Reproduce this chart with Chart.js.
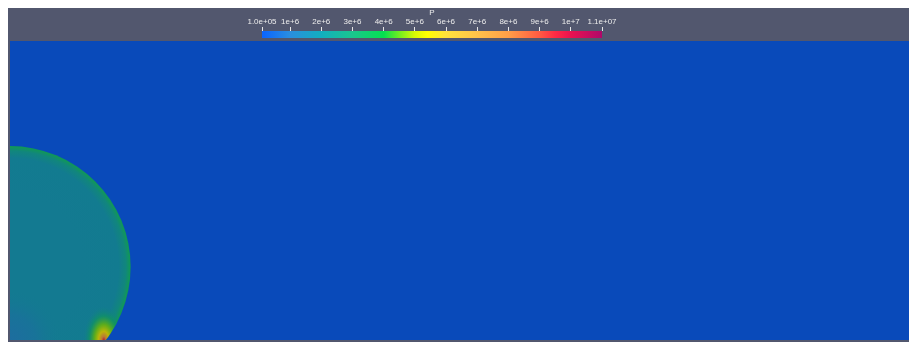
<!DOCTYPE html>
<html>
<head>
<meta charset="utf-8">
<script src="https://cdn.jsdelivr.net/npm/chart.js@4/dist/chart.umd.min.js"></script>
<style>
  html, body { margin: 0; padding: 0; background: #ffffff; width: 909px; height: 343px; overflow: hidden; }
  #frame { position: absolute; left: 8px; top: 8px; width: 901px; height: 334px; background: #52576e; }
  #bar { position: absolute; left: 0; top: 0; }
  #field { position: absolute; left: 10px; top: 41px; }
</style>
</head>
<body>
<div id="frame"></div>
<canvas id="bar" width="909" height="41"></canvas>
<canvas id="field" width="899" height="299"></canvas>
<script>
// ---- colour legend ----
const fieldName = 'P';
const pMin = 1e5;
const pMax = 1.1e7;
const tickValues = [1e5, 1e6, 2e6, 3e6, 4e6, 5e6, 6e6, 7e6, 8e6, 9e6, 1e7, 1.1e7];
const tickLabels = ['1.0e+05', '1e+6', '2e+6', '3e+6', '4e+6', '5e+6', '6e+6', '7e+6', '8e+6', '9e+6', '1e+7', '1.1e+07'];

// colour map: pressure -> colour
const cmapValues = [1e5, 1e6, 2e6, 3e6, 4e6, 4.5e6, 5e6, 5.4e6, 6e6, 7e6, 8e6, 9e6, 9.5e6, 1e7, 1.1e7];
const cmapColors = ['#0a64ff', '#2a8ee0', '#12aebf', '#1ac68e', '#05e050', '#70ee20', '#d8fa05', '#ffff00',
                    '#ffe23c', '#ffc24a', '#ff9e48', '#ff5a42', '#ff2a44', '#e81250', '#b0086a'];

// ---- pressure field (domain: x 0..3, y 0..1) ----
const domainX = [0, 3];
const domainY = [0, 1];
const ambientPressure = 1e5;

// expanding bubble on the symmetry axis, radial pressure profile
const bubbleCenter = [0, 0.245];
const bubbleRadius = 0.403;
const bubbleProfileR = [0, 0.6, 0.9, 0.96, 0.99, 1.0];
const bubbleProfileP = [1.75e6, 1.76e6, 1.82e6, 2.4e6, 3.25e6, 3.45e6];

// rarefied region near the axis / wall corner
const cornerCenter = [0, 0];
const cornerRadius = 0.17;
const cornerProfileR = [0, 0.5, 1.0];
const cornerProfileP = [1.2e6, 1.45e6, 1.75e6];

// reflected pressure peak where the front meets the wall
const spotCenter = [0.313, 0];
const spotRadius = 0.1;
const spotProfileR = [0, 0.1, 0.25, 0.45, 0.7, 1.0];
const spotProfileP = [9.6e6, 7.8e6, 5.5e6, 4.6e6, 3.3e6, 1.9e6];
const spotProfileA = [1, 1, 1, 0.95, 0.65, 0];

// rendered surface shading
const SHADE = 0.72;
const LIFT = 2;

function hexRGB(h) {
  return [parseInt(h.slice(1, 3), 16), parseInt(h.slice(3, 5), 16), parseInt(h.slice(5, 7), 16)];
}
function cmapRGB(p) {
  if (p <= cmapValues[0]) return hexRGB(cmapColors[0]);
  for (let i = 1; i < cmapValues.length; i++) {
    if (p <= cmapValues[i]) {
      const t = (p - cmapValues[i - 1]) / (cmapValues[i] - cmapValues[i - 1]);
      const a = hexRGB(cmapColors[i - 1]), b = hexRGB(cmapColors[i]);
      return a.map((v, k) => v + (b[k] - v) * t);
    }
  }
  return hexRGB(cmapColors[cmapColors.length - 1]);
}
function fieldColor(p, alpha = 1) {
  const c = cmapRGB(p).map(v => Math.round(Math.min(255, v * SHADE + LIFT)));
  return `rgba(${c[0]},${c[1]},${c[2]},${alpha})`;
}

// colour legend bar
new Chart(document.getElementById('bar'), {
  type: 'bar',
  data: {
    labels: [fieldName],
    datasets: [{
      data: [[pMin, pMax]],
      borderWidth: 0,
      barPercentage: 1,
      categoryPercentage: 1,
      backgroundColor: (c) => {
        const chart = c.chart;
        if (!chart.chartArea) return cmapColors[0];
        const xs = chart.scales.x;
        const g = chart.ctx.createLinearGradient(xs.getPixelForValue(pMin), 0, xs.getPixelForValue(pMax), 0);
        cmapValues.forEach((v, i) => g.addColorStop((v - pMin) / (pMax - pMin), cmapColors[i]));
        return g;
      }
    }]
  },
  options: {
    indexAxis: 'y',
    responsive: false,
    animation: false,
    devicePixelRatio: 1,
    layout: { padding: { left: 262, right: 307, top: 8, bottom: 3 } },
    plugins: { legend: { display: false }, tooltip: { enabled: false } },
    scales: {
      x: {
        type: 'linear',
        position: 'top',
        min: pMin,
        max: pMax,
        afterBuildTicks: (s) => { s.ticks = tickValues.map(v => ({ value: v })); },
        afterFit: (s) => { s.height = 23; },
        ticks: {
          autoSkip: false,
          maxRotation: 0,
          padding: 0,
          color: '#ececec',
          font: { family: 'Liberation Sans', size: 8 },
          callback: (v, i) => tickLabels[i]
        },
        grid: { drawOnChartArea: false, drawTicks: true, tickLength: 4, color: '#e6e6e6', lineWidth: 1 },
        border: { display: false },
        title: {
          display: true,
          text: fieldName,
          color: '#ececec',
          font: { family: 'Liberation Sans', size: 8 },
          padding: { top: 0, bottom: 0 }
        }
      },
      y: { display: false }
    }
  }
});

// pressure field painter
const fieldPainter = {
  id: 'fieldPainter',
  beforeDatasetsDraw(chart) {
    const { ctx, chartArea: area } = chart;
    const xs = chart.scales.x, ys = chart.scales.y;
    const px = v => xs.getPixelForValue(v);
    const py = v => ys.getPixelForValue(v);
    const len = r => ((px(r) - px(0)) + (py(0) - py(r))) / 2;

    ctx.save();
    ctx.beginPath();
    ctx.rect(area.left, area.top, area.width, area.height);
    ctx.clip();

    // ambient
    ctx.fillStyle = fieldColor(ambientPressure);
    ctx.fillRect(area.left, area.top, area.width, area.height);

    // bubble
    const bx = px(bubbleCenter[0]), by = py(bubbleCenter[1]), br = len(bubbleRadius);
    const bg = ctx.createRadialGradient(bx, by, 0, bx, by, br);
    bubbleProfileR.forEach((r, i) => bg.addColorStop(r, fieldColor(bubbleProfileP[i])));
    ctx.beginPath();
    ctx.arc(bx, by, br, 0, Math.PI * 2);
    ctx.fillStyle = bg;
    ctx.fill();
    ctx.clip();

    // rarefied corner
    const cx = px(cornerCenter[0]), cy = py(cornerCenter[1]), cr = len(cornerRadius);
    const cg = ctx.createRadialGradient(cx, cy, 0, cx, cy, cr);
    cornerProfileR.forEach((r, i) => cg.addColorStop(r, fieldColor(cornerProfileP[i], i === cornerProfileR.length - 1 ? 0 : 1)));
    ctx.fillStyle = cg;
    ctx.fillRect(cx - cr, cy - cr, cr * 2, cr * 2);

    // wall peak
    const sx = px(spotCenter[0]), sy = py(spotCenter[1]), sr = len(spotRadius);
    ctx.save();
    ctx.translate(sx, sy);
    ctx.scale(0.7, 1.15);
    const sg = ctx.createRadialGradient(0, 0, 0, 0, 0, sr);
    spotProfileR.forEach((r, i) => sg.addColorStop(r, fieldColor(spotProfileP[i], spotProfileA[i])));
    ctx.fillStyle = sg;
    ctx.fillRect(-sr, -sr, sr * 2, sr * 2);
    ctx.restore();

    ctx.restore();
  }
};

new Chart(document.getElementById('field'), {
  type: 'scatter',
  data: { datasets: [] },
  options: {
    responsive: false,
    animation: false,
    devicePixelRatio: 1,
    layout: { padding: 0 },
    plugins: { legend: { display: false }, tooltip: { enabled: false } },
    scales: {
      x: { type: 'linear', min: domainX[0], max: domainX[1], display: false },
      y: { type: 'linear', min: domainY[0], max: domainY[1], display: false }
    }
  },
  plugins: [fieldPainter]
});
</script>
</body>
</html>
